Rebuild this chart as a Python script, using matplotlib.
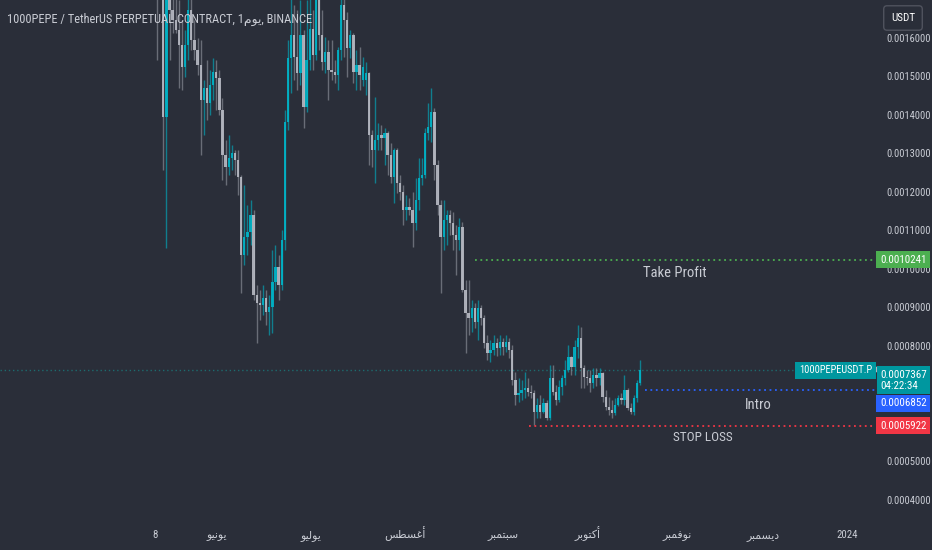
import matplotlib
matplotlib.use("Agg")
import matplotlib.pyplot as plt
from matplotlib import font_manager
from matplotlib.transforms import blended_transform_factory
import numpy as np

# ---------------- data (prices in units of 0.0001 USDT) ----------------
UNIT = 1e-4
OPEN = [18.03,17.25,17.77,13.95,17.51,16.73,16.47,16.21,15.82,15.25,
        15.82,16.73,15.95,15.69,15.30,14.39,14.70,14.31,14.78,15.12,
        14.96,14.13,12.96,12.65,12.88,13.01,12.83,12.39,10.36,10.83,
        10.96,11.40,9.32,9.11,9.06,9.24,8.88,9.01,9.66,10.05,
        9.58,10.75,13.82,15.48,16.08,15.51,15.09,16.08,14.21,15.43,
        16.24,15.56,17.12,16.08,15.38,15.64,15.17,15.12,15.04,15.69,
        16.86,16.47,15.74,16.08,15.12,15.30,14.91,14.91,15.09,13.48,
        13.09,13.35,13.48,13.40,13.53,12.96,12.39,13.09,12.23,12.00,
        11.53,11.61,11.53,11.19,11.79,12.36,12.44,13.53,13.69,14.08,
        12.70,11.66,10.83,11.27,11.40,11.19,10.88,10.75,11.09,9.45,
        8.85,8.72,8.98,8.62,8.98,8.72,8.07,7.81,7.89,8.07,
        7.94,8.10,7.97,8.10,7.89,7.11,6.72,6.77,6.85,6.90,
        6.80,6.77,6.28,6.46,6.28,6.51,6.12,7.16,6.80,6.59,
        6.93,7.16,7.37,7.71,7.45,7.97,8.20,7.42,7.19,7.16,
        7.03,7.24,7.16,7.29,6.67,6.41,6.33,6.25,6.46,6.64,
        6.59,6.85,6.38,6.28,6.64,7.03]
HIGH = [18.55,18.30,18.29,18.55,18.03,17.77,17.51,16.99,16.47,16.21,
        17.51,17.25,16.47,16.00,15.95,14.91,15.43,15.17,15.48,15.43,
        15.17,14.44,13.35,13.48,13.22,13.09,13.09,12.44,12.18,11.66,
        11.79,11.53,9.58,9.45,9.58,9.45,9.32,10.49,10.62,10.36,
        11.01,14.13,15.95,17.12,16.86,16.73,16.99,16.21,16.99,17.38,
        16.73,17.77,18.03,16.73,16.03,15.95,15.95,15.43,15.77,17.51,
        17.25,16.68,16.21,16.13,15.69,15.77,15.51,15.38,15.12,13.61,
        14.47,13.79,13.74,13.66,13.58,13.27,13.14,13.14,12.44,12.18,
        11.92,11.84,12.00,12.36,12.88,12.88,13.66,14.31,14.70,14.18,
        12.83,11.79,11.79,11.53,11.53,11.48,11.14,11.32,11.22,9.71,
        9.71,9.19,9.11,9.19,9.06,8.80,8.28,8.15,8.28,8.20,
        8.28,8.20,8.28,8.20,8.02,7.32,7.16,7.11,7.32,7.16,
        6.98,6.85,6.64,6.72,6.64,6.59,7.50,7.50,6.98,7.11,
        7.24,7.63,8.02,7.75,8.15,8.54,8.49,7.50,7.37,7.37,
        7.42,7.42,7.42,7.32,6.85,6.67,6.59,6.64,6.72,6.77,
        7.24,6.90,6.51,6.72,7.11,7.63]
LOW = [15.43,17.12,12.57,10.54,15.43,16.13,16.13,14.70,14.65,14.99,
       15.43,15.69,15.43,15.04,12.96,13.48,13.87,14.00,14.39,14.13,
       14.00,12.31,12.18,12.44,12.57,12.44,11.92,9.37,10.10,10.36,
       10.62,9.19,8.07,8.67,8.80,8.54,8.28,8.33,9.45,9.19,
       9.45,10.49,13.61,14.57,14.91,14.65,14.78,13.66,14.08,15.17,
       15.17,15.43,15.69,15.17,15.09,14.39,14.91,14.83,14.65,15.43,
       15.51,14.99,15.48,14.83,14.65,14.65,14.75,14.52,12.70,12.65,
       12.23,13.09,13.09,12.70,12.44,12.23,11.71,11.97,11.79,11.14,
       11.27,11.40,10.57,11.01,11.53,12.18,12.36,13.35,13.30,12.31,
       11.40,9.37,10.49,10.62,10.88,10.49,9.84,10.49,9.40,7.81,
       8.28,8.36,8.46,8.15,8.54,7.94,7.63,7.58,7.76,7.73,
       7.76,7.76,7.84,7.68,6.98,6.46,6.54,6.59,6.64,6.70,
       6.64,5.94,6.12,6.12,6.25,6.07,6.07,6.72,6.46,6.55,
       6.72,6.98,7.32,7.24,7.24,7.68,6.90,6.90,6.98,6.80,
       6.90,6.95,6.98,6.54,6.33,6.20,6.12,6.20,6.44,6.49,
       6.46,6.33,6.23,6.20,6.54,6.98]
CLOSE = [17.25,17.51,13.95,17.51,16.73,16.47,16.21,15.82,15.25,15.82,
         16.73,15.95,15.69,15.30,14.39,14.70,14.31,14.78,15.12,14.96,
         14.13,12.96,12.65,12.88,13.01,12.83,12.39,10.36,10.83,10.96,
         11.40,9.32,9.11,9.06,9.24,8.88,9.01,9.66,10.05,9.58,
         10.75,13.82,15.48,16.08,15.51,15.09,16.08,14.21,15.43,16.24,
         15.56,17.12,16.08,15.38,15.64,15.17,15.12,15.04,15.69,16.86,
         16.47,15.74,16.08,15.12,15.30,15.04,15.25,15.09,13.48,13.09,
         13.35,13.48,13.40,13.53,12.96,12.39,13.09,12.23,12.00,11.53,
         11.61,11.53,11.19,11.79,12.36,12.44,13.53,13.69,14.08,12.70,
         11.66,10.83,11.27,11.40,11.19,10.88,10.75,11.09,9.45,8.85,
         8.72,8.98,8.62,8.98,8.72,8.07,7.81,7.89,8.07,7.94,
         8.10,7.97,8.10,7.89,7.11,6.72,6.77,6.85,6.90,6.80,
         6.77,6.28,6.46,6.28,6.51,6.12,7.16,6.80,6.59,6.93,
         7.16,7.37,7.71,7.45,7.97,8.20,7.42,7.19,7.16,7.03,
         7.24,7.16,7.29,6.67,6.41,6.33,6.25,6.46,6.64,6.59,
         6.85,6.38,6.28,6.64,7.03,7.367]

MONTH_LABELS = ["8", "يونيو", "يوليو", "أغسطس", "سبتمبر", "أكتوبر", "نوفمبر", "ديسمبر", "2024"]
MONTH_POS = [-0.6, 19.3, 49.4, 79.6, 111.0, 138.0, 166.9, 194.5, 221.4]

PRICE_TICKS = [0.0004, 0.0005, 0.0006, 0.0007, 0.0008, 0.0009, 0.0010,
               0.0011, 0.0012, 0.0013, 0.0014, 0.0015, 0.0016]
HIDDEN_TICKS = [0.0006, 0.0007]   # covered by the price labels in the reference

TAKE_PROFIT = 0.0010241
ENTRY = 0.0006852
STOP_LOSS = 0.0005922
LAST_PRICE = 0.0007367
TP_START, ENTRY_START, SL_START = 102, 156.5, 119.5
SYMBOL = "1000PEPEUSDT.P"
COUNTDOWN = "04:22:34"

# ---------------- fonts ----------------
available = {f.name for f in font_manager.fontManager.ttflist}
NARROW = next((f for f in ["Roboto Condensed", "Liberation Sans Narrow", "Archivo Narrow",
                           "Barlow Semi Condensed", "Asap Condensed"] if f in available), "DejaVu Sans")
FAM = [NARROW, "DejaVu Sans"]
plt.rcParams['font.family'] = FAM

# ---------------- Arabic shaping (presentation forms, visual order) ----------------
DUAL = {'ب': 'ﺏﺐﺑﺒ', 'ت': 'ﺕﺖﺗﺘ', 'س': 'ﺱﺲﺳﺴ',
        'ط': 'ﻁﻂﻃﻄ', 'غ': 'ﻍﻎﻏﻐ', 'ف': 'ﻑﻒﻓﻔ',
        'ك': 'ﻙﻚﻛﻜ', 'ل': 'ﻝﻞﻟﻠ', 'م': 'ﻡﻢﻣﻤ',
        'ن': 'ﻥﻦﻧﻨ', 'ي': 'ﻱﻲﻳﻴ'}
RIGHT = {'ا': 'ﺍﺎ', 'أ': 'ﺃﺄ', 'د': 'ﺩﺪ', 'ر': 'ﺭﺮ', 'و': 'ﻭﻮ'}


def shape(word):
    if not any(ch in DUAL or ch in RIGHT for ch in word):
        return word
    out = []
    n = len(word)
    for i, ch in enumerate(word):
        prev = word[i - 1] if i > 0 else None
        nxt = word[i + 1] if i < n - 1 else None
        jp = prev is not None and prev in DUAL
        if ch in DUAL:
            jn = nxt is not None and (nxt in DUAL or nxt in RIGHT)
            f = DUAL[ch]
            out.append(f[3] if (jp and jn) else f[1] if jp else f[2] if jn else f[0])
        elif ch in RIGHT:
            out.append(RIGHT[ch][1] if jp else RIGHT[ch][0])
        else:
            out.append(ch)
    return ''.join(reversed(out))


# ---------------- colours ----------------
BG = '#2a2e39'
UP = '#00b5c8'
DOWN = '#b8bbc4'
TXT = '#c9ccd4'

fig = plt.figure(figsize=(9.32, 5.5), dpi=100)
fig.patch.set_facecolor(BG)
ax = fig.add_axes([0, 30 / 550, 875 / 932, 520 / 550])
ax.set_facecolor(BG)
for s in ax.spines.values():
    s.set_visible(False)

o = np.array(OPEN) * UNIT
h = np.array(HIGH) * UNIT
l = np.array(LOW) * UNIT
c = np.array(CLOSE) * UNIT
x = np.arange(len(o))
up = c >= o
hi = np.maximum(h, np.maximum(o, c))
lo = np.minimum(l, np.minimum(o, c))

ax.vlines(x[up], lo[up], hi[up], color=UP, lw=1.0, alpha=0.6, zorder=2)
ax.vlines(x[~up], lo[~up], hi[~up], color=DOWN, lw=1.0, alpha=0.45, zorder=2)
body_b = np.minimum(o, c)
body_h = np.maximum(np.abs(c - o), 0.000001)
ax.bar(x[up], body_h[up], bottom=body_b[up], width=0.75, color=UP, alpha=0.9, lw=0, zorder=3)
ax.bar(x[~up], body_h[~up], bottom=body_b[~up], width=0.75, color=DOWN, alpha=0.9, lw=0, zorder=3)

XMIN, XMAX = -50.4, 230.4
ax.set_xlim(XMIN, XMAX)
ax.set_ylim(3.48e-4, 16.987e-4)

# level lines
ax.axhline(LAST_PRICE, color='#1d6b6e', lw=1.0, ls=(0, (1, 2)), zorder=1)
ax.hlines(TAKE_PROFIT, TP_START, XMAX, color='#4caf50', lw=1.3, ls=(0, (1, 2)), zorder=4)
ax.hlines(ENTRY, ENTRY_START, XMAX, color='#2962ff', lw=1.3, ls=(0, (1, 2)), zorder=4)
ax.hlines(STOP_LOSS, SL_START, XMAX, color='#f23645', lw=1.3, ls=(0, (1, 2)), zorder=4)

ax.text(166, TAKE_PROFIT - 0.000034, "Take Profit", color=TXT, fontsize=10.5, ha='center', va='center', zorder=5)
ax.text(193, ENTRY - 0.000039, "Intro", color=TXT, fontsize=10.5, ha='center', va='center', zorder=5)
ax.text(175, STOP_LOSS - 0.000029, "STOP LOSS", color=TXT, fontsize=9.5, ha='center', va='center', zorder=5)

# y axis (right)
ax.yaxis.tick_right()
ax.set_yticks(PRICE_TICKS)
ax.set_yticklabels(["" if any(abs(v - hv) < 1e-9 for hv in HIDDEN_TICKS) else f"{v:.7f}"
                    for v in PRICE_TICKS])
ax.tick_params(axis='y', length=0, pad=8, labelsize=7.6, labelcolor=TXT)

# x axis labels (baseline aligned)
ax.set_xticks([])
xtr = blended_transform_factory(ax.transData, fig.transFigure)
for pos, lab in zip(MONTH_POS, MONTH_LABELS):
    fig.text(pos, 1 - 538 / 550, shape(lab), transform=xtr, color=TXT, fontsize=7.8,
             ha='center', va='baseline')

# title
title = "1000PEPE / TetherUS PERPETUAL CONTRACT, 1" + shape("يوم") + ", BINANCE"
fig.text(7 / 932, 1 - 19 / 550, title, color=TXT, fontsize=8.9, ha='left', va='center', zorder=10)

# USDT box
fig.text(903 / 932, 1 - 18 / 550, "USDT", color='white', fontsize=8.0, ha='center', va='center',
         bbox=dict(boxstyle='round,pad=0.65,rounding_size=0.3', fc=BG, ec='#50535e', lw=1.0))

# price labels on the right
tr = blended_transform_factory(fig.transFigure, ax.transData)
LX = 880 / 932
BOX_FS = 7.9


def price_box(y, text, color, dy=0.0):
    fig.text(LX, y + dy, text, transform=tr, color='white', fontsize=BOX_FS, ha='left', va='center',
             zorder=20, bbox=dict(boxstyle='square,pad=0.32', fc=color, ec='none'))


price_box(TAKE_PROFIT, f"{TAKE_PROFIT:.7f}", '#4caf50')
price_box(STOP_LOSS, f"{STOP_LOSS:.7f}", '#f23645')
price_box(ENTRY, f"{ENTRY:.7f}", '#2962ff', dy=-0.000034)
fig.text(LX, LAST_PRICE + 0.0000015, f"{LAST_PRICE:.7f}\n{COUNTDOWN}", transform=tr, color='white',
         fontsize=BOX_FS, ha='left', va='top', linespacing=1.15, zorder=21,
         bbox=dict(boxstyle='square,pad=0.3', fc='#00979f', ec='none'))
fig.text(872 / 932, LAST_PRICE, SYMBOL, transform=tr, color='white', fontsize=7.5, ha='right', va='center',
         zorder=21, bbox=dict(boxstyle='square,pad=0.35', fc='#00979f', ec='none'))

# small marker at the last-price label
ax.plot([231.2], [LAST_PRICE + 0.0000035], marker='>', ms=4, color='#b2b5be', clip_on=False, zorder=22)

fig.savefig("out.png", dpi=100, facecolor=BG)
